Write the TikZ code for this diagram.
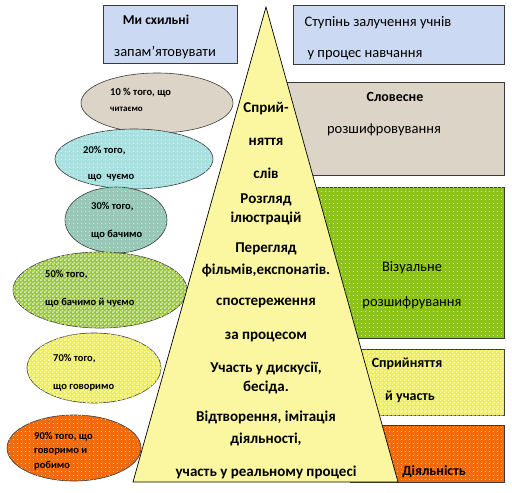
\documentclass[tikz,border=0pt]{standalone}
\usepackage{fontspec}
\setmainfont{Carlito}
\usetikzlibrary{patterns.meta,positioning}
\definecolor{TopBlue}{HTML}{CCD9F2}
\definecolor{SandTan}{HTML}{DCD5C7}
\definecolor{AquaDot}{HTML}{A9E1E1}
\definecolor{SageDot}{HTML}{98C8B8}
\definecolor{LimeCheck}{HTML}{98C82A}
\definecolor{LemonCheck}{HTML}{EDF03C}
\definecolor{FireOrange}{HTML}{F06A0E}
\definecolor{GrassGreen}{HTML}{8CC21C}
\definecolor{PaleYellow}{HTML}{FBF7A0}
\definecolor{EdgeGray}{HTML}{3A3A3A}
\tikzdeclarepattern{
  name=wdots,
  type=uncolored,
  bounding box={(0pt,0pt) and (4pt,4pt)},
  tile size={(4pt,4pt)},
  code={\fill (2pt,2pt) circle (0.6pt);}
}
\tikzdeclarepattern{
  name=wcheck,
  type=uncolored,
  bounding box={(0pt,0pt) and (4pt,4pt)},
  tile size={(4pt,4pt)},
  code={\fill (0pt,0pt) rectangle (2pt,2pt); \fill (2pt,2pt) rectangle (4pt,4pt);}
}

\begin{document}
\begin{tikzpicture}[
  x=1pt,y=-1pt,
  every node/.style={inner sep=0pt,text=black},
  toptext/.style={font=\fontsize{14.5}{16}\selectfont},
  sidetext/.style={font=\fontsize{14.5}{16}\selectfont},
  sidebold/.style={font=\fontsize{14}{16}\selectfont\bfseries},
  pyrtext/.style={font=\fontsize{15}{17}\selectfont\bfseries,align=center},
  ovaltext/.style={align=left,anchor=west},
  topbox/.style={draw=EdgeGray,fill=TopBlue,line width=0.6pt},
  band/.style={draw=EdgeGray,line width=0.6pt},
  oval/.style={draw=EdgeGray,line width=0.6pt},
  dotted fill/.style={postaction={pattern={wdots},pattern color=white!85!#1}},
  checked fill/.style={postaction={pattern={wcheck},pattern color=white!70!#1}},
  pyramid/.style={draw=black,fill=PaleYellow,line width=0.7pt}
]
\useasboundingbox (0,0) rectangle (512,493);
\fill[white] (0,0) rectangle (512,493);

\draw[topbox] (103,5) rectangle (237,63);
\draw[topbox] (293,5) rectangle (504,64);
\node[sidebold,font=\fontsize{13.5}{16}\selectfont\bfseries] (remember1) at (156,20) {Ми схильні};
\node[toptext] (remember2) at (165,53) {запам’ятовувати};
\node[toptext] (degree1) at (378,23) {Ступінь залучення учнів};
\node[toptext] (degree2) at (365,55) {у процес навчання};

\draw[band,fill=SandTan] (250,82) rectangle (504,175);
\draw[band,fill=GrassGreen,dotted fill=GrassGreen] (300,187) rectangle (504,338);
\draw[band,fill=LemonCheck,checked fill=LemonCheck] (330,349) rectangle (504,415);
\draw[band,fill=FireOrange,dotted fill=FireOrange] (350,425) rectangle (504,482);

\draw[oval,fill=SandTan] (157,103) ellipse [x radius=76pt,y radius=30pt];
\draw[oval,fill=AquaDot,dotted fill=AquaDot] (134,159) ellipse [x radius=79pt,y radius=30pt];
\draw[oval,fill=SageDot,dotted fill=SageDot] (116,220) ellipse [x radius=51pt,y radius=33pt];
\draw[oval,fill=LimeCheck,checked fill=LimeCheck] (100,290) ellipse [x radius=87pt,y radius=38pt];
\draw[oval,fill=LemonCheck,checked fill=LemonCheck] (94,368) ellipse [x radius=67pt,y radius=35pt];
\draw[oval,fill=FireOrange,dotted fill=FireOrange] (74,448) ellipse [x radius=67pt,y radius=33pt];

\draw[pyramid] (266,7) -- (398,482) -- (133,482) -- cycle;

\node[ovaltext,font=\fontsize{10.5}{16}\selectfont\bfseries] (read) at (110,100) {10 \% того, що\\{\fontsize{9}{10}\selectfont читаємо}};
\node[ovaltext,font=\fontsize{10.5}{26}\selectfont\bfseries] (hear) at (83,164) {20\% того,\\\ \ що\ \ чуємо};
\node[ovaltext,font=\fontsize{10.5}{28}\selectfont\bfseries] (see) at (91,221) {30\% того,\\що бачимо};
\node[ovaltext,font=\fontsize{10.5}{28}\selectfont\bfseries] (seehear) at (45,289) {50\% того,\\що бачимо й чуємо};
\node[ovaltext,font=\fontsize{10.5}{28}\selectfont\bfseries] (say) at (53,373) {70\% того,\\що говоримо};
\node[ovaltext,font=\fontsize{10.5}{14.5}\selectfont\bfseries] (saydo) at (34,451) {90\% того, що\\говоримо и\\робимо};

\node[pyrtext,font=\fontsize{15}{33}\selectfont\bfseries] (words) at (266,140) {Сприй-\\няття\\слів};
\node[pyrtext,font=\fontsize{15}{19}\selectfont\bfseries] (pictures) at (266,209.5) {Розгляд\\ілюстрацій};
\node[pyrtext,font=\fontsize{15}{22}\selectfont\bfseries] (films) at (266,260) {Перегляд\\фільмів,експонатів.};
\node[pyrtext,font=\fontsize{15}{34}\selectfont\bfseries] (watch) at (266,320) {спостереження\\за процесом};
\node[pyrtext,font=\fontsize{15}{19}\selectfont\bfseries] (talk) at (266,377.5) {Участь у дискусії,\\бесіда.};
\node[pyrtext,font=\fontsize{15}{22}\selectfont\bfseries] (imitate) at (266,428) {Відтворення, імітація\\діяльності,};
\node[pyrtext] (real) at (266,472) {участь у реальному процесі};

\node[sidebold] (verbal1) at (395,97) {Словесне};
\node[sidetext] (verbal2) at (384,130) {розшифровування};
\node[sidetext] (visual1) at (412,268) {Візуальне};
\node[sidetext] (visual2) at (412,303) {розшифрування};
\node[sidebold] (part1) at (407,364) {Сприйняття};
\node[sidebold] (part2) at (410,397) {й участь};
\node[sidebold] (activity) at (434,472) {Діяльність};
\end{tikzpicture}
\end{document}
